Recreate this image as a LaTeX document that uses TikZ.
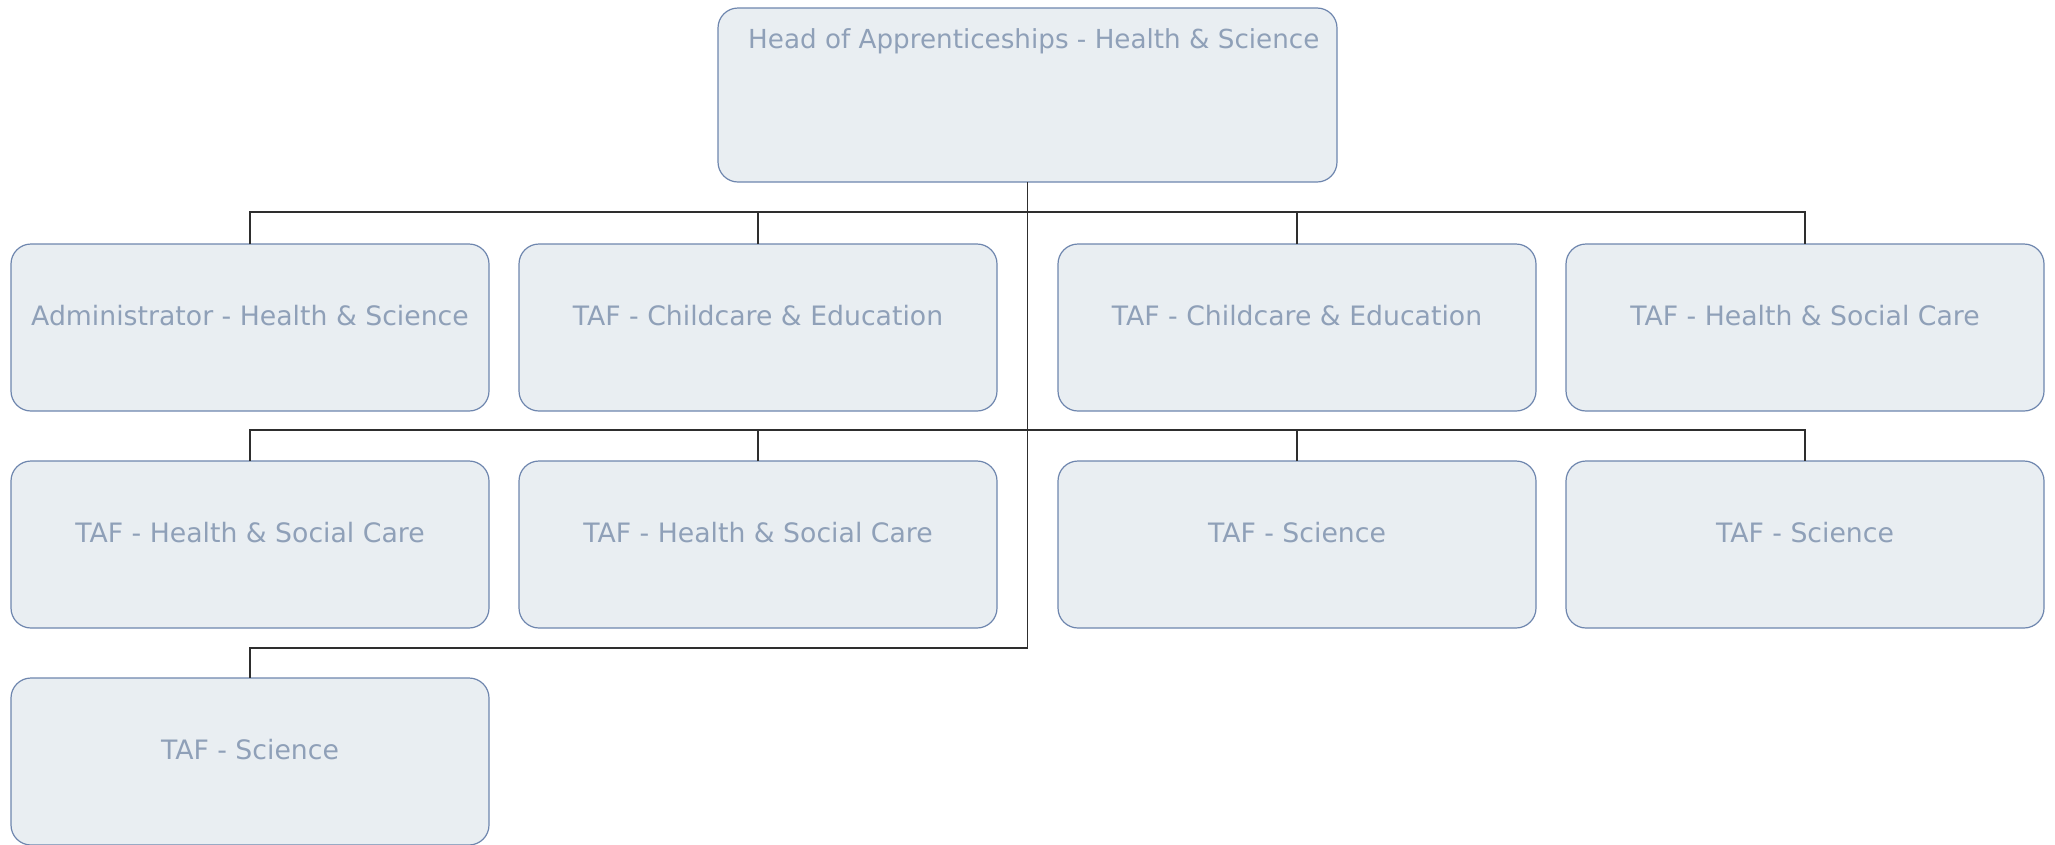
\documentclass[tikz,border=0pt]{standalone}
\usepackage{fontspec}
\setmainfont{DejaVu Sans}
\usepackage{tikz}
\usetikzlibrary{positioning}
\definecolor{boxfill}{HTML}{E9EEF2}
\definecolor{boxline}{HTML}{6E86AE}
\definecolor{boxtext}{HTML}{8FA0B8}
\definecolor{linkline}{HTML}{2E2E2E}

\begin{document}
\begin{tikzpicture}[
  x=1pt, y=-1pt,
  every node/.style={font=\fontsize{26.7}{32}\selectfont, text=boxtext},
  staff/.style={rectangle, rounded corners=20pt, draw=boxline, line width=1.2pt, fill=boxfill,
    minimum width=478pt, minimum height=167pt, text height=20pt, text depth=24pt,
    inner sep=0pt, outer sep=0pt},
  headbox/.style={staff, minimum width=619pt, minimum height=174pt},
  link/.style={draw=linkline, line width=1.1pt}
]
\useasboundingbox (0,0) rectangle (2055,844);

% head of department
\node[headbox] (head) at (1027.5,95) {};
\node[anchor=base west, inner sep=0pt, font=\fontsize{26.2}{32}\selectfont] (headtxt)
  at ([xshift=30pt, yshift=-40.5pt]head.north west) {Head of Apprenticeships - Health \& Science};

% first row
\node[staff] (a1) at (250,327.5) {Administrator - Health \& Science};
\node[staff, right=30pt of a1] (a2) {TAF - Childcare \& Education};
\node[staff, right=61pt of a2] (a3) {TAF - Childcare \& Education};
\node[staff, right=30pt of a3] (a4) {TAF - Health \& Social Care};

% second row
\node[staff, below=50pt of a1] (b1) {TAF - Health \& Social Care};
\node[staff, below=50pt of a2] (b2) {TAF - Health \& Social Care};
\node[staff, below=50pt of a3] (b3) {TAF - Science};
\node[staff, below=50pt of a4] (b4) {TAF - Science};

% third row
\node[staff, below=50pt of b1] (c1) {TAF - Science};

% connectors
\coordinate (busA) at (1027.5,212);
\coordinate (busB) at (1027.5,430);
\coordinate (busC) at (1027.5,648);
\draw[link] (head.south) -- (busC);
\draw[link] (a1.north) |- (busA) -| (a4.north);
\draw[link] (b1.north) |- (busB) -| (b4.north);
\foreach \n in {a2,a3}
  \draw[link] (\n.north) -- (\n.north |- busA);
\foreach \n in {b2,b3}
  \draw[link] (\n.north) -- (\n.north |- busB);
\draw[link] (c1.north) |- (busC);
\end{tikzpicture}
\end{document}
